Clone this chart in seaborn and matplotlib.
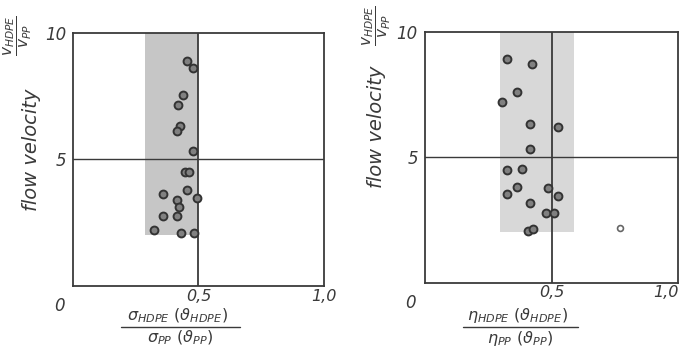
import numpy as np
import pandas as pd
import seaborn as sns
import matplotlib.pyplot as plt

# left panel: sigma ratio vs flow velocity ratio
sigma_x = [0.453, 0.479, 0.438, 0.420, 0.426, 0.413, 0.479, 0.446, 0.461, 0.357,
           0.455, 0.493, 0.413, 0.424, 0.357, 0.413, 0.324, 0.429, 0.483]
sigma_v = [8.89, 8.63, 7.55, 7.14, 6.31, 6.13, 5.35, 4.51, 4.51, 3.62,
           3.79, 3.49, 3.39, 3.14, 2.75, 2.78, 2.21, 2.08, 2.08]

# right panel: eta ratio vs flow velocity ratio
eta_x = [0.325, 0.422, 0.362, 0.305, 0.417, 0.525, 0.414, 0.326, 0.384, 0.364,
         0.486, 0.324, 0.525, 0.416, 0.480, 0.510, 0.409, 0.425]
eta_v = [8.91, 8.71, 7.58, 7.21, 6.34, 6.19, 5.34, 4.50, 4.54, 3.82,
         3.77, 3.53, 3.44, 3.19, 2.76, 2.76, 2.07, 2.13]
eta_out_x = [0.77]
eta_out_v = [2.18]

# shaded scatter bands (x from, x to, v from, v to)
sigma_band = [0.285, 0.5, 2.0, 10.0]
eta_band = [0.295, 0.59, 2.0, 10.0]

sns.set_style("white")
plt.rcParams['font.family'] = ['DejaVu Sans']
plt.rcParams['mathtext.fontset'] = 'dejavusans'

ink = '#3a3a3a'
fig = plt.figure(figsize=(6.83, 3.52), dpi=100)
ax1 = fig.add_axes([0.107, 0.1875, 0.367, 0.719])
ax2 = fig.add_axes([0.622, 0.197, 0.371, 0.713])

# ax, x, v, band, band colour, numerator, denominator,
# x-label layout (bar y, bar x0, bar x1), ylabel pos, fraction pos
panels = [
    (ax1, sigma_x, sigma_v, sigma_band, '#c6c6c6',
     r'$\sigma_{HDPE}\ (\vartheta_{HDPE})$', r'$\sigma_{PP}\ (\vartheta_{PP})$',
     (-0.162, 0.19, 0.665), (-0.165, 0.54), (-0.22, 0.99)),
    (ax2, eta_x, eta_v, eta_band, '#d8d8d8',
     r'$\eta_{HDPE}\ (\vartheta_{HDPE})$', r'$\eta_{PP}\ (\vartheta_{PP})$',
     (-0.176, 0.15, 0.605), (-0.19, 0.62), (-0.19, 1.025)),
]

for ax, xs, vs, band, bcol, num, den, xl, ylab_xy, frac_xy in panels:
    ax.fill_betweenx([band[2], band[3]], band[0], band[1],
                     color=bcol, linewidth=0, zorder=0)
    ax.axvline(0.5, color=ink, lw=1.3, zorder=1)
    ax.axhline(5, color=ink, lw=1.0, zorder=1)
    df = pd.DataFrame({'x': xs, 'v': vs})
    sns.scatterplot(data=df, x='x', y='v', ax=ax, s=32, color='#808080',
                    edgecolor='#333333', linewidth=1.4, zorder=3)
    ax.set_xlim(0, 1.0)
    ax.set_ylim(0, 10)
    ax.set_xticks([0.5, 1.0])
    ax.set_xticklabels(['0,5', '1,0'], fontsize=11.5, style='italic', color=ink)
    ax.set_yticks([5, 10])
    ax.set_yticklabels(['5', '10'], fontsize=12, style='italic', color=ink)
    ax.tick_params(axis='y', length=3, width=1, color=ink, pad=2)
    ax.tick_params(axis='x', length=0, pad=2)
    for sp in ax.spines.values():
        sp.set_color(ink)
        sp.set_linewidth(1.3)
    ax.set_xlabel('')
    ax.set_ylabel('')
    ax.text(-0.035, -0.045, '0', transform=ax.transAxes, fontsize=12,
            style='italic', color=ink, ha='right', va='top')

    # x label as stacked fraction
    xc = (xl[1] + xl[2]) / 2
    ax.text(xc - 0.01, xl[0] + 0.006, num, transform=ax.transAxes,
            fontsize=11.5, color=ink, ha='center', va='bottom')
    ax.plot([xl[1], xl[2]], [xl[0], xl[0]], transform=ax.transAxes,
            color=ink, lw=1.0, clip_on=False)
    ax.text(xc, xl[0] - 0.008, den, transform=ax.transAxes,
            fontsize=11.5, color=ink, ha='center', va='top')

    ax.text(ylab_xy[0], ylab_xy[1], 'flow velocity', transform=ax.transAxes,
            fontsize=14, style='italic', color=ink, rotation=90,
            ha='center', va='center')
    ax.text(frac_xy[0], frac_xy[1], r'$\dfrac{v_{HDPE}}{v_{PP}}$',
            transform=ax.transAxes, fontsize=11, color=ink, rotation=90,
            ha='center', va='center')

ax2.get_xticklabels()[-1].set_ha('right')

sns.scatterplot(x=eta_out_x, y=eta_out_v, ax=ax2, s=18, color='white',
                edgecolor='#666666', linewidth=1.2, zorder=3)

fig.savefig('out.png', dpi=100)
